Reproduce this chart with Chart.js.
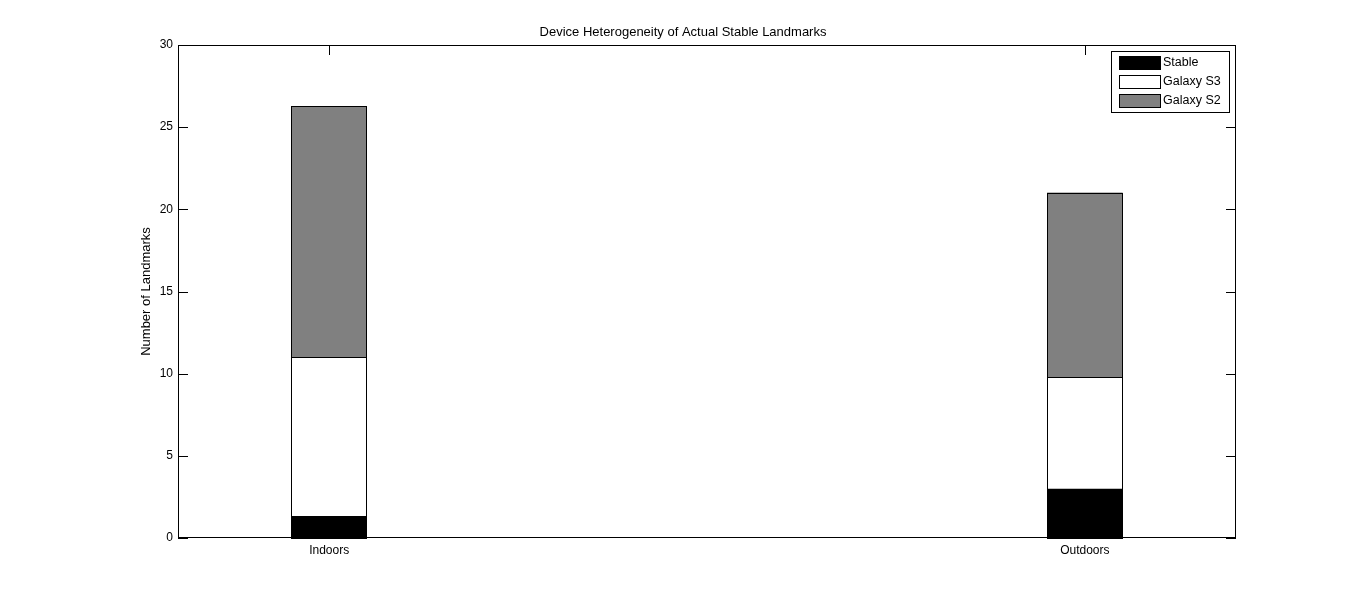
<!DOCTYPE html>
<html>
<head>
<meta charset="utf-8">
<script src="https://cdn.jsdelivr.net/npm/chart.js@4/dist/chart.umd.min.js"></script>
<style>
  html, body { margin: 0; padding: 0; background: #fff; }
  #wrap { width: 1366px; height: 605px; }
</style>
</head>
<body>
<div id="wrap"><canvas id="c" width="1366" height="605"></canvas></div>
<script>
const categories = ['Indoors', 'Outdoors'];
const stableValues = [1.33, 3.0];
const galaxyS3Values = [9.67, 6.8];
const galaxyS2Values = [15.27, 11.22];
const yTicks = [0, 5, 10, 15, 20, 25, 30];
const titleText = 'Device Heterogeneity of Actual Stable Landmarks';
const yAxisTitle = 'Number of Landmarks';

const FONT = "'Liberation Sans', Arial, sans-serif";

function toPoints(arr) { return arr.map((v, i) => ({ x: i + 1, y: v })); }

const frameAndLegend = {
  id: 'frameAndLegend',
  afterDatasetsDraw(chart) {
    const ctx = chart.ctx;
    const a = chart.chartArea;
    const xs = chart.scales.x, ys = chart.scales.y;
    ctx.save();
    ctx.strokeStyle = '#000';
    ctx.lineWidth = 1;
    // crisp bar outlines from the library's bar elements
    chart.data.datasets.forEach((ds, di) => {
      const meta = chart.getDatasetMeta(di);
      meta.data.forEach(el => {
        const p = el.getProps(['x', 'y', 'base', 'width'], true);
        const l = Math.round(p.x - p.width / 2), r = Math.round(p.x + p.width / 2) - 1;
        const t = Math.round(Math.min(p.y, p.base)), b = Math.round(Math.max(p.y, p.base));
        ctx.strokeRect(l + 0.5, t + 0.5, r - l, b - t);
      });
    });
    // box
    ctx.strokeRect(Math.round(a.left) + 0.5, Math.round(a.top) + 0.5,
      Math.round(a.right - a.left) - 1, Math.round(a.bottom - a.top) - 1);
    // inward ticks
    const tl = 10;
    ctx.beginPath();
    ys.ticks.forEach(t => {
      const y = Math.round(ys.getPixelForValue(t.value)) + 0.5;
      ctx.moveTo(a.left, y); ctx.lineTo(a.left + tl, y);
      ctx.moveTo(a.right, y); ctx.lineTo(a.right - tl, y);
    });
    xs.ticks.forEach(t => {
      const x = Math.round(xs.getPixelForValue(t.value)) + 0.5;
      ctx.moveTo(x, a.top); ctx.lineTo(x, a.top + tl);
      ctx.moveTo(x, a.bottom); ctx.lineTo(x, a.bottom - tl);
    });
    ctx.stroke();

    // legend
    const lx = 1111, ly = 51, lw = 118, lh = 61;
    ctx.fillStyle = '#fff';
    ctx.fillRect(lx, ly, lw, lh);
    ctx.strokeRect(lx + 0.5, ly + 0.5, lw, lh);
    ctx.font = '12.5px ' + FONT;
    ctx.textBaseline = 'middle';
    ctx.textAlign = 'left';
    const rowsY = [63, 82, 100.5];
    chart.data.datasets.forEach((ds, i) => {
      const cy = Math.round(rowsY[i]);
      ctx.fillStyle = ds.backgroundColor;
      ctx.fillRect(1119, cy - 7, 41, 13);
      ctx.strokeRect(1119.5, cy - 6.5, 41, 13);
      ctx.fillStyle = '#000';
      ctx.fillText(ds.label, 1163, cy);
    });
    ctx.restore();
  }
};

new Chart(document.getElementById('c'), {
  type: 'bar',
  data: {
    datasets: [
      { label: 'Stable', data: toPoints(stableValues), backgroundColor: '#000000' },
      { label: 'Galaxy S3', data: toPoints(galaxyS3Values), backgroundColor: '#ffffff' },
      { label: 'Galaxy S2', data: toPoints(galaxyS2Values), backgroundColor: '#808080' }
    ].map(d => Object.assign(d, {
      borderWidth: 0, barPercentage: 0.1, categoryPercentage: 1.0
    }))
  },
  options: {
    responsive: false,
    animation: false,
    devicePixelRatio: 1,
    layout: { padding: { left: 130, right: 130, top: 0, bottom: 0 } },
    plugins: {
      legend: { display: false },
      tooltip: { enabled: false },
      title: {
        display: true, text: titleText, color: '#000',
        font: { family: FONT, size: 13, weight: 'normal', lineHeight: 1.2 },
        padding: { top: 25, bottom: 4.4 }
      }
    },
    scales: {
      x: {
        type: 'linear', min: 0.8, max: 2.2, stacked: true, offset: false,
        grid: { display: false, drawTicks: false },
        border: { display: false },
        afterBuildTicks(scale) { scale.ticks = categories.map((c, i) => ({ value: i + 1 })); },
        afterFit(scale) { scale.height = 67; },
        ticks: {
          color: '#000', padding: 5, autoSkip: false, maxRotation: 0,
          font: { family: FONT, size: 12 },
          callback: (v) => categories[Math.round(v) - 1] || ''
        }
      },
      y: {
        min: 0, max: 30, stacked: true,
        grid: { display: false, drawTicks: false },
        border: { display: false },
        afterBuildTicks(scale) { scale.ticks = yTicks.map(v => ({ value: v })); },
        afterFit(scale) { scale.width = 48; },
        ticks: { color: '#000', padding: 5, font: { family: FONT, size: 12 } },
        title: {
          display: true, text: yAxisTitle, color: '#000',
          font: { family: FONT, size: 13, lineHeight: 1.2 }, padding: { top: 9, bottom: 0 }
        }
      }
    }
  },
  plugins: [frameAndLegend]
});
</script>
</body>
</html>
